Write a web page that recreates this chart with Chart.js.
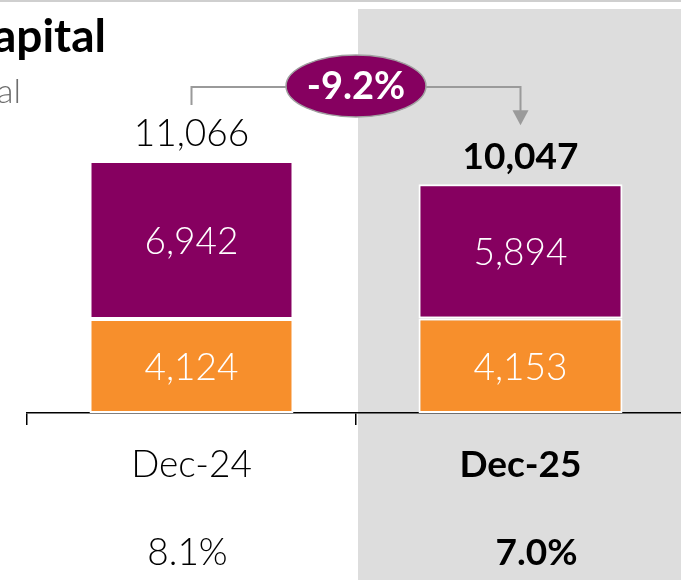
<!DOCTYPE html>
<html><head><meta charset="utf-8">
<script src="https://cdn.jsdelivr.net/npm/chart.js@4"></script>
<style>
html,body{margin:0;padding:0;overflow:hidden;background:#fff;width:681px;height:580px;}
#wrap{position:relative;width:685px;height:580px;}
</style></head>
<body>
<div id="wrap"><canvas id="c" width="685" height="580"></canvas></div>
<script>
const categories = ['Dec-24', 'Dec-25'];
const lowerValues = [4124, 4153];
const upperValues = [6942, 5894];
const totals = [11066, 10047];
const ratioLabels = ['8.1%', '7.0%'];
const changeLabel = '-9.2%';
const titleText = 'Capital';
const subtitleText = 'Total';

const PURPLE = '#860060';
const ORANGE = '#F78F2C';
const FONT = 'Lato, "DejaVu Sans", sans-serif';
const SIZE = 37;
const fmt = v => v.toLocaleString('en-US');

const decor = {
  id: 'decor',
  beforeDraw(chart) {
    const {ctx, scales: {x}} = chart;
    ctx.save();
    ctx.fillStyle = '#CFCFCF';
    ctx.fillRect(0, 0, chart.width, 2);
    const bx = (x.getPixelForValue(0) + x.getPixelForValue(1)) / 2 + 2;
    ctx.fillStyle = '#DDDDDD';
    ctx.fillRect(bx, 9, chart.width - bx, chart.height - 9);
    ctx.fillStyle = '#000';
    ctx.font = 'bold 46px ' + FONT;
    ctx.textAlign = 'right';
    ctx.textBaseline = 'alphabetic';
    ctx.fillText(titleText, 106, 52);
    ctx.fillStyle = '#6E6E6E';
    ctx.font = '300 34px ' + FONT;
    ctx.fillText(subtitleText, 21, 103);
    ctx.restore();
  },
  afterDatasetsDraw(chart) {
    const {ctx, scales: {x}} = chart;
    const m0 = chart.getDatasetMeta(0), m1 = chart.getDatasetMeta(1);
    ctx.save();
    ctx.textAlign = 'center';
    ctx.textBaseline = 'middle';
    [m0, m1].forEach(meta => {
      meta.data.forEach((bar, i) => {
        const v = chart.data.datasets[meta.index].data[i];
        ctx.fillStyle = '#fff';
        ctx.font = '300 ' + SIZE + 'px ' + FONT;
        ctx.fillText(fmt(v), bar.x, (bar.y + bar.base) / 2 + 2);
      });
    });
    m1.data.forEach((bar, i) => {
      ctx.fillStyle = '#000';
      ctx.font = (i === 1 ? 'bold ' : '300 ') + SIZE + 'px ' + FONT;
      ctx.fillText(fmt(totals[i]), bar.x, bar.y - 27);
    });
    ratioLabels.forEach((t, i) => {
      ctx.fillStyle = '#000';
      ctx.font = (i === 1 ? 'bold ' : '300 ') + SIZE + 'px ' + FONT;
      ctx.fillText(t, x.getPixelForValue(i) + (i === 1 ? 16 : -4), 553);
    });
    const x0 = m1.data[0].x, x1 = m1.data[1].x;
    const yLine = 87;
    ctx.strokeStyle = '#9A9A9A';
    ctx.lineWidth = 2;
    ctx.beginPath();
    ctx.moveTo(x0, m1.data[0].y - 56);
    ctx.lineTo(x0, yLine);
    ctx.lineTo(x1, yLine);
    ctx.lineTo(x1, m1.data[1].y - 72);
    ctx.stroke();
    ctx.fillStyle = '#9A9A9A';
    ctx.beginPath();
    ctx.moveTo(x1 - 8, m1.data[1].y - 74);
    ctx.lineTo(x1 + 8, m1.data[1].y - 74);
    ctx.lineTo(x1, m1.data[1].y - 59);
    ctx.closePath();
    ctx.fill();
    const cx = (x0 + x1) / 2, cy = 86;
    ctx.beginPath();
    ctx.ellipse(cx, cy, 70, 31, 0, 0, Math.PI * 2);
    ctx.fillStyle = PURPLE;
    ctx.fill();
    ctx.lineWidth = 1.5;
    ctx.strokeStyle = '#A0A0A0';
    ctx.stroke();
    ctx.fillStyle = '#fff';
    ctx.font = 'bold 38px ' + FONT;
    ctx.fillText(changeLabel, cx, cy + 1);
    ctx.restore();
  }
};

new Chart(document.getElementById('c'), {
  type: 'bar',
  data: {
    labels: categories,
    datasets: [
      {data: lowerValues, backgroundColor: ORANGE, borderColor: '#fff', borderWidth: 2, borderSkipped: false},
      {data: upperValues, backgroundColor: PURPLE, borderColor: '#fff', borderWidth: 2, borderSkipped: false}
    ]
  },
  options: {
    responsive: false,
    animation: false,
    events: [],
    layout: {padding: {left: 27, right: 0, top: 0, bottom: 0}},
    plugins: {legend: {display: false}, tooltip: {enabled: false}, title: {display: false}},
    datasets: {bar: {categoryPercentage: 1, barPercentage: 0.62}},
    scales: {
      x: {
        stacked: true,
        offset: true,
        border: {display: true, color: '#000', width: 1.5},
        grid: {display: true, drawOnChartArea: false, drawTicks: true, tickLength: 12, color: '#000', lineWidth: 1.5, offset: true},
        ticks: {
          color: '#000',
          padding: 18,
          font: ctx => ({family: FONT, size: SIZE, weight: ctx.index === 1 ? 'bold' : '300'})
        },
        afterFit: s => { s.height = 167; }
      },
      y: {
        stacked: true,
        display: false,
        min: 0,
        max: 18140
      }
    }
  },
  plugins: [decor]
});
</script>
</body></html>
